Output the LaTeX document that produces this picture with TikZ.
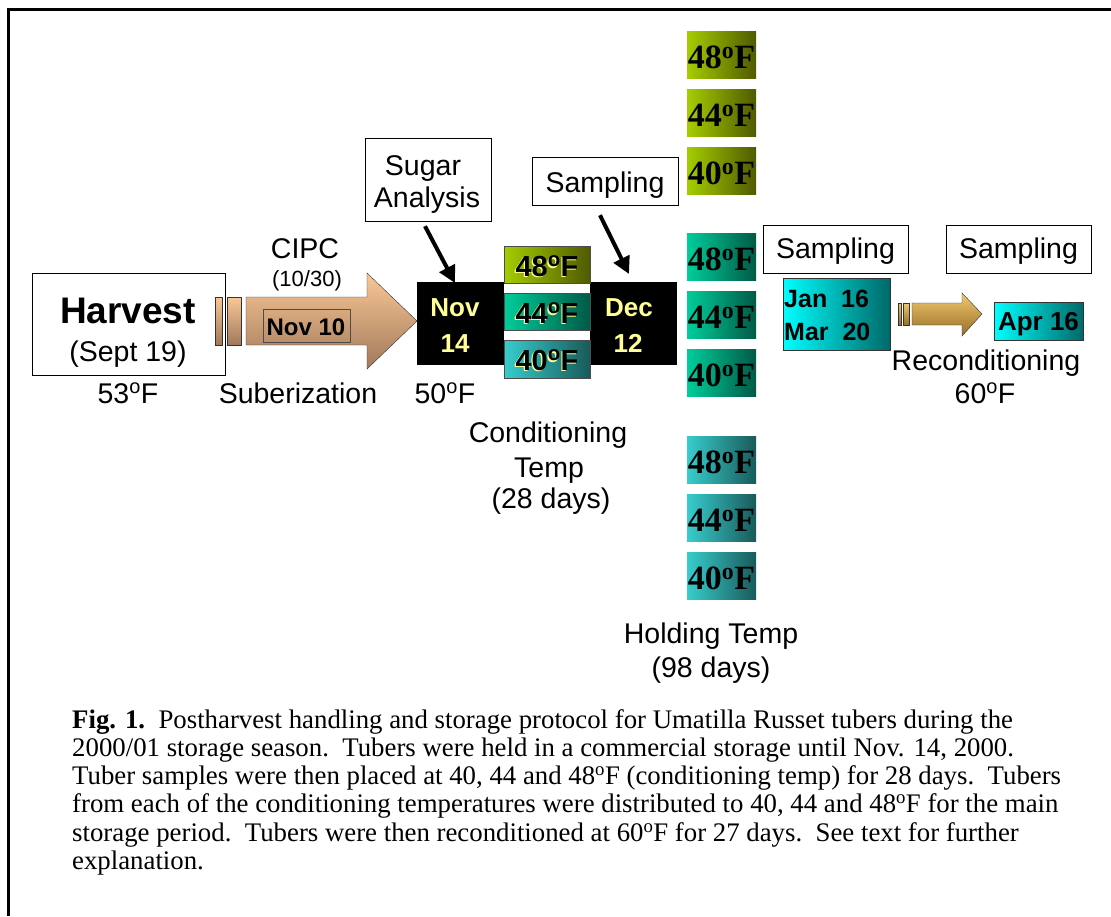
\documentclass[tikz,border=0pt]{standalone}
\usepackage{fontspec}
\setmainfont{Liberation Sans}
\newfontfamily\capfont{Liberation Serif}
\usetikzlibrary{positioning, arrows.meta}

% gradient colours
\definecolor{olvL}{RGB}{165,205,0}
\definecolor{olvD}{RGB}{80,90,0}
\definecolor{tealL}{RGB}{0,205,155}
\definecolor{tealD}{RGB}{0,90,70}
\definecolor{cynL}{RGB}{55,205,205}
\definecolor{cynD}{RGB}{25,90,90}
\definecolor{aquaL}{RGB}{0,255,255}
\definecolor{aquaD}{RGB}{0,105,105}
\definecolor{tanL}{RGB}{250,200,150}
\definecolor{tanD}{RGB}{160,120,90}
\definecolor{goldL}{RGB}{242,200,110}
\definecolor{goldD}{RGB}{150,110,40}
\definecolor{datefg}{RGB}{255,255,150}

\newcommand{\dg}{\textsuperscript{o}}
\newcommand{\shtxt}[1]{\makebox[0pt][l]{\hspace{-1.2pt}\raisebox{-1.2pt}{\color{datefg}#1}}#1}

\begin{document}
\begin{tikzpicture}[x=1pt, y=-1pt,
    lbl/.style={inner sep=0pt, anchor=base, font=\fontsize{28.5}{33}\selectfont},
    small/.style={inner sep=0pt, anchor=base, font=\fontsize{22}{26}\selectfont},
    datetxt/.style={inner sep=0pt, anchor=base, text=datefg, font=\fontsize{26}{30}\selectfont\bfseries},
    boldtxt/.style={inner sep=0pt, anchor=base, font=\fontsize{25}{30}\selectfont\bfseries},
    labelbox/.style={draw, thin, inner sep=0pt},
    condbox/.style={draw=black!70, thin, inner sep=0pt, minimum width=86, minimum height=37},
    holdbox/.style={inner sep=0pt, minimum width=69, minimum height=47},
    holdtxt/.style={inner sep=0pt, anchor=base, font=\capfont\fontsize{34}{36}\selectfont\bfseries},
    pointer/.style={line width=4pt, -{Triangle[length=17pt, width=17pt]}}]

    \useasboundingbox (0,0) rectangle (1111,916);
    \fill[white] (0,0) rectangle (1111,916);

    % frame --  --  --  --  --  --  --  --  --  --  --  --  --  --  --
    \draw[line width=3pt] (8,916) -- (8,9) -- (1111,9);

    % Harvest --  --  --  --  --  --  --  --  --  --  --  --  --  --  --
    \node[labelbox, minimum width=193, minimum height=102] (harvest) at (128.5,324) {};
    \node[lbl, font=\fontsize{37}{40}\selectfont\bfseries] (harvestt) at (128,323) {Harvest};
    \node[lbl] (harvestd) at (128,361) {(Sept 19)};
    \node[lbl] (t53) at (128,403) {53\dg F};

    % Suberization arrow  --  --  --  --  --  --  --  --  --  --  --  -
    \draw[black!80, top color=tanL, bottom color=tanD] (215,297) rectangle (222,345);
    \draw[black!80, top color=tanL, bottom color=tanD] (227,297) rectangle (241,345);
    \draw[black!80, top color=tanL, bottom color=tanD] (246,297) -- (367,297) -- (367,273)
        -- (417,321) -- (367,369) -- (367,345) -- (246,345) -- cycle;
    \node[draw=black!70, thin, minimum width=87, minimum height=33, inner sep=0pt] (nov10) at (306.5,325.5) {};
    \node[boldtxt, font=\fontsize{24}{28}\selectfont\bfseries] (nov10t) at (306,335) {Nov 10};
    \node[lbl] (cipc) at (305,258) {CIPC};
    \node[small] (cipcd) at (307,286) {(10/30)};
    \node[lbl] (suber) at (298,403) {Suberization};

    % Conditioning  --  --  --  --  --  --  --  --  --  --  --  --  --
    \node[fill=black, inner sep=0pt, minimum width=260, minimum height=83] (blackbar) at (547,323.5) {};
    \fill[white] (504,283) rectangle (590,340);
    \node[condbox, left color=olvL, right color=olvD] (c48) at (547,264.5) {};
    \node[condbox, left color=tealL, right color=tealD] (c44) at (547,311.5) {};
    \node[condbox, left color=cynL, right color=cynD, minimum height=38] (c40) at (547,359) {};
    \node[boldtxt, font=\fontsize{29}{32}\selectfont\bfseries] (c48t) at (547,276) {\shtxt{48\dg F}};
    \node[boldtxt, font=\fontsize{29}{32}\selectfont\bfseries] (c44t) at (547,323) {\shtxt{44\dg F}};
    \node[boldtxt, font=\fontsize{29}{32}\selectfont\bfseries] (c40t) at (547,370) {\shtxt{40\dg F}};
    \node[datetxt] (nov) at (455,316) {Nov};
    \node[datetxt] (n14) at (455,352) {14};
    \node[datetxt] (dec) at (629,316) {Dec};
    \node[datetxt] (d12) at (628,352) {12};
    \node[lbl] (t50) at (445,403) {50\dg F};
    \node[lbl] (cond1) at (548,442) {Conditioning};
    \node[lbl] (cond2) at (549,477) {Temp};
    \node[lbl] (cond3) at (551,508) {(28 days)};

    % Sugar analysis and sampling --  --  --  --  --  --  --  --  --  --
    \node[labelbox, minimum width=126, minimum height=83] (sugar) at (428,179.5) {};
    \node[lbl] (sugar1) at (423,175) {Sugar};
    \node[lbl] (sugar2) at (427,207) {Analysis};
    \coordinate (sugarhit) at (455,283);
    \draw[pointer] ([shift={(-3,5)}]sugar.south) -- (sugarhit);

    \node[labelbox, minimum width=146, minimum height=48] (samp1) at (605,181) {};
    \node[lbl] (samp1t) at (605,192) {Sampling};
    \coordinate (samphit) at (629,274);
    \draw[pointer] ([shift={(-5,10)}]samp1.south) -- (samphit);

    % Holding temperatures  --  --  --  --  --  --  --  --  --  --  --
    \foreach \gy/\gc [count=\gi] in {55/olv, 257/teal, 460/cyn}
        \foreach \tmp [count=\ti from 0] in {48,44,40} {
            \node[holdbox, left color=\gc L, right color=\gc D] (h\gi\tmp) at (721.5,\gy+58*\ti) {};
            \node[holdtxt] (ht\gi\tmp) at (721.5,\gy+58*\ti+13) {\tmp\dg F};
        }
    \node[lbl] (hold1) at (711,643) {Holding Temp};
    \node[lbl] (hold2) at (711,677) {(98 days)};

    % Sampling and reconditioning --  --  --  --  --  --  --  --  --  --
    \node[labelbox, minimum width=145, minimum height=48] (samp2) at (835.5,249) {};
    \node[lbl] (samp2t) at (835.5,258) {Sampling};
    \node[labelbox, minimum width=145, minimum height=48] (samp3) at (1018.5,249) {};
    \node[lbl] (samp3t) at (1018.5,258) {Sampling};

    \node[draw=black!80, thin, inner sep=0pt, minimum width=107, minimum height=72,
        left color=aquaL, right color=aquaD] (janmar) at (836.5,314) {};
    \node[boldtxt, anchor=base west] (jan) at (784,307) {Jan\ \ 16};
    \node[boldtxt, anchor=base west] (mar) at (784,340) {Mar\ \ 20};

    \draw[black!80, top color=goldL, bottom color=goldD] (898,303) rectangle (901,325);
    \draw[black!80, top color=goldL, bottom color=goldD] (903.5,303) rectangle (909,325);
    \draw[black!80, top color=goldL, bottom color=goldD] (912,303) -- (962,303) -- (962,293)
        -- (982,314) -- (962,336) -- (962,325) -- (912,325) -- cycle;

    \node[draw=black!80, thin, inner sep=0pt, minimum width=89, minimum height=38,
        left color=aquaL, right color=aquaD] (apr) at (1038.5,321) {};
    \node[boldtxt, font=\fontsize{26}{30}\selectfont\bfseries] (aprt) at (1038.5,330) {Apr 16};
    \node[lbl] (recond) at (986,370) {Reconditioning};
    \node[lbl] (t60) at (985,403) {60\dg F};

    % caption --  --  --  --  --  --  --  --  --  --  --  --  --  --  --
    \node[inner sep=0pt, anchor=north west, align=left,
        font=\capfont\fontsize{26.8}{28.3}\selectfont] (caption) at (72,709)
        {\textbf{Fig. 1.}\ \ Postharvest handling and storage protocol for Umatilla Russet tubers during the\\
        2000/01 storage season.\ \ Tubers were held in a commercial storage until Nov. 14, 2000.\\
        Tuber samples were then placed at 40, 44 and 48\dg F (conditioning temp) for 28 days.\ \ Tubers\\
        from each of the conditioning temperatures were distributed to 40, 44 and 48\dg F for the main\\
        storage period.\ \ Tubers were then reconditioned at 60\dg F for 27 days.\ \ See text for further\\
        explanation.};
\end{tikzpicture}
\end{document}
